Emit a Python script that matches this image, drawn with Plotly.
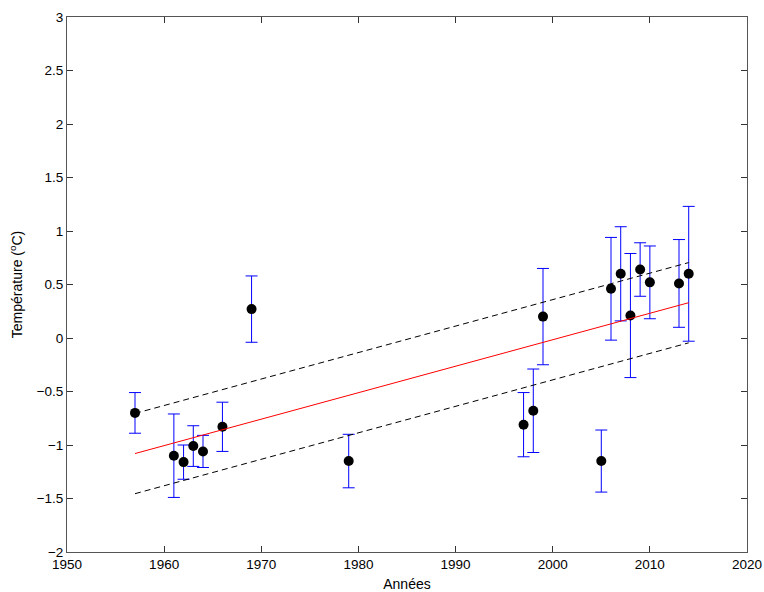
import numpy as np
import plotly.graph_objects as go

# Annual temperature anomalies with uncertainty
years = [1957, 1961, 1962, 1963, 1964, 1966, 1969, 1979, 1997, 1998, 1999,
         2005, 2006, 2007, 2008, 2009, 2010, 2013, 2014]
temps = [-0.70, -1.10, -1.16, -1.01, -1.06, -0.83, 0.27, -1.15, -0.81, -0.68, 0.20,
         -1.15, 0.46, 0.60, 0.21, 0.64, 0.52, 0.51, 0.60]
errors = [0.19, 0.39, 0.16, 0.19, 0.15, 0.23, 0.31, 0.25, 0.30, 0.39, 0.45,
          0.29, 0.48, 0.44, 0.58, 0.25, 0.34, 0.41, 0.63]

# Linear trend (end points) and confidence band half-width
trend_years = [1957, 2014]
trend_values = [-1.08, 0.33]
band = 0.375

x_ticks = [1950, 1960, 1970, 1980, 1990, 2000, 2010, 2020]
y_ticks = [-2, -1.5, -1, -0.5, 0, 0.5, 1, 1.5, 2, 2.5, 3]

font = "Liberation Sans, Arial, sans-serif"

fig = go.Figure()

fig.add_trace(go.Scatter(
    x=years, y=temps, mode="markers",
    marker=dict(color="black", size=10, line=dict(color="black", width=0)),
    error_y=dict(type="data", array=errors, visible=True,
                 color="blue", thickness=1, width=6),
    showlegend=False,
))

trend = np.array(trend_values)
fig.add_trace(go.Scatter(x=trend_years, y=trend, mode="lines",
                         line=dict(color="red", width=1), showlegend=False))
fig.add_trace(go.Scatter(x=trend_years, y=trend + band, mode="lines",
                         line=dict(color="black", width=1, dash="6px,4px"),
                         showlegend=False))
fig.add_trace(go.Scatter(x=trend_years, y=trend - band, mode="lines",
                         line=dict(color="black", width=1, dash="6px,4px"),
                         showlegend=False))

axis_common = dict(
    showline=True, linecolor="#555555", linewidth=1, mirror="ticks",
    ticks="inside", ticklen=6, tickcolor="#333333", tickwidth=1,
    showgrid=False, zeroline=False, automargin=False,
    ticklabeloverflow="allow",
    tickfont=dict(family=font, size=13.5, color="black"),
)

fig.update_layout(
    width=764, height=592,
    margin=dict(l=67, r=17, t=17, b=40),
    paper_bgcolor="white", plot_bgcolor="white",
    font=dict(family=font, size=13.5, color="black"),
    xaxis=dict(range=[1950, 2020], tickvals=x_ticks,
               title=dict(text="Années", standoff=8,
                          font=dict(family=font, size=14)),
               **axis_common),
    yaxis=dict(range=[-2, 3], tickvals=y_ticks,
               title=dict(text="Température (<sup>o</sup>C)", standoff=10,
                          font=dict(family=font, size=14)),
               **axis_common),
)

fig.write_html("out.html")
